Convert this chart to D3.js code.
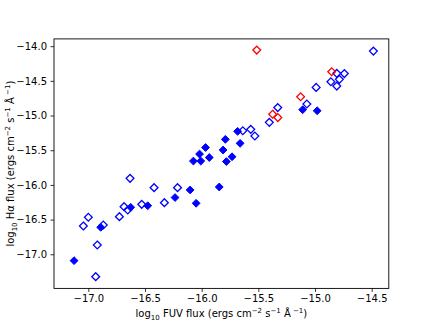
<!DOCTYPE html>
<html><head><meta charset="utf-8">
<script src="https://cdn.jsdelivr.net/npm/d3@7"></script>
<style>body{margin:0;background:#fff}svg{display:block}text{font-family:"DejaVu Sans",sans-serif}</style>
</head><body>
<svg id="c" width="432" height="324"></svg>
<script>
const filledX = [-17.126,-16.891,-16.626,-16.476,-16.235,-16.102,-16.049,-15.845,-16.073,-16.008,-15.782,-16.019,-15.933,-15.732,-15.966,-15.811,-15.791,-15.661,-15.683,-15.109,-14.981];
const filledY = [-17.092,-16.611,-16.323,-16.300,-16.182,-16.073,-16.265,-16.030,-15.656,-15.656,-15.663,-15.555,-15.605,-15.594,-15.461,-15.497,-15.343,-15.401,-15.228,-14.916,-14.931];
const openX = [-16.935,-16.921,-17.044,-17.000,-16.868,-16.726,-16.685,-16.652,-16.632,-16.529,-16.420,-16.329,-16.213,-15.637,-15.567,-15.531,-15.403,-15.329,-15.072,-14.990,-14.808,-14.741,-14.860,-14.785,-14.808,-14.485];
const openY = [-17.323,-16.866,-16.592,-16.467,-16.578,-16.458,-16.314,-16.362,-15.905,-16.280,-16.040,-16.256,-16.040,-15.219,-15.199,-15.295,-15.098,-14.885,-14.834,-14.594,-14.392,-14.395,-14.513,-14.478,-14.575,-14.071];
const redX = [-15.514,-15.374,-15.328,-15.127,-14.853];
const redY = [-14.056,-14.981,-15.029,-14.729,-14.369];
const xTicks = [-17.0,-16.5,-16.0,-15.5,-15.0,-14.5];
const yTicks = [-17.0,-16.5,-16.0,-15.5,-15.0,-14.5,-14.0];

const svg = d3.select("#c");
const L=54, R=388.8, T=38.9, B=288.4;
const x = d3.scaleLinear().domain([-17.303,-14.349]).range([L,R]);
const y = d3.scaleLinear().domain([-17.492,-13.895]).range([B,T]);
const fmt = v => d3.format(".1f")(v).replace("-","\u2212");

const h = 3.9;
const diamond = `M0,${-h}L${h},0L0,${h}L${-h},0Z`;

const g = svg.append("g");
function plot(xs, ys, color, filled){
  g.selectAll(null).data(xs.map((v,i)=>[v,ys[i]])).enter().append("path")
    .attr("d", diamond)
    .attr("transform", d=>`translate(${x(d[0])},${y(d[1])})`)
    .attr("fill", filled?color:"none")
    .attr("stroke", color).attr("stroke-width", filled?1:1.3);
}
plot(filledX, filledY, "#0000ff", true);
plot(openX, openY, "#0000ff", false);
plot(redX, redY, "#ff0000", false);

// frame
svg.append("rect").attr("x",L).attr("y",T).attr("width",R-L).attr("height",B-T)
  .attr("fill","none").attr("stroke","#000").attr("stroke-width",0.9);

const xa = svg.append("g").attr("transform",`translate(0,${B})`)
  .call(d3.axisBottom(x).tickValues(xTicks).tickFormat(fmt).tickSize(3.5).tickPadding(3.5));
const ya = svg.append("g").attr("transform",`translate(${L},0)`)
  .call(d3.axisLeft(y).tickValues(yTicks).tickFormat(fmt).tickSize(3.5).tickPadding(3.5));
[xa,ya].forEach(a=>{
  a.select(".domain").remove();
  a.selectAll("line").attr("stroke","#000").attr("stroke-width",0.8);
  a.selectAll("text").attr("font-size",10).attr("fill","#000").attr("font-family","DejaVu Sans");
});

function label(sel, parts){
  parts.forEach(p=>{
    const t = sel.append("tspan").text(p[0]);
    if(p[1]==="sub"){t.attr("font-size",7).attr("dy",2.5);}
    else if(p[1]==="sup"){t.attr("font-size",7).attr("dy",-4);}
    else if(p[1]==="back"){t.attr("dy",p[2]);}
  });
}
const xl = svg.append("text").attr("x",(L+R)/2).attr("y",317).attr("text-anchor","middle").attr("font-size",10);
label(xl,[["log"],["10","sub"],[" FUV flux (ergs cm","back",-2.5],["\u22122","sup"],[" s","back",4],["\u22121","sup"],[" Å","back",4],[" \u22121","sup"],[")","back",4]]);
const yl = svg.append("text").attr("transform",`translate(14,${(T+B)/2}) rotate(-90)`).attr("text-anchor","middle").attr("font-size",10);
label(yl,[["log"],["10","sub"],[" H\u03b1 flux (ergs cm","back",-2.5],["\u22122","sup"],[" s","back",4],["\u22121","sup"],[" Å","back",4],[" \u22121","sup"],[")","back",4]]);
</script>
</body></html>
